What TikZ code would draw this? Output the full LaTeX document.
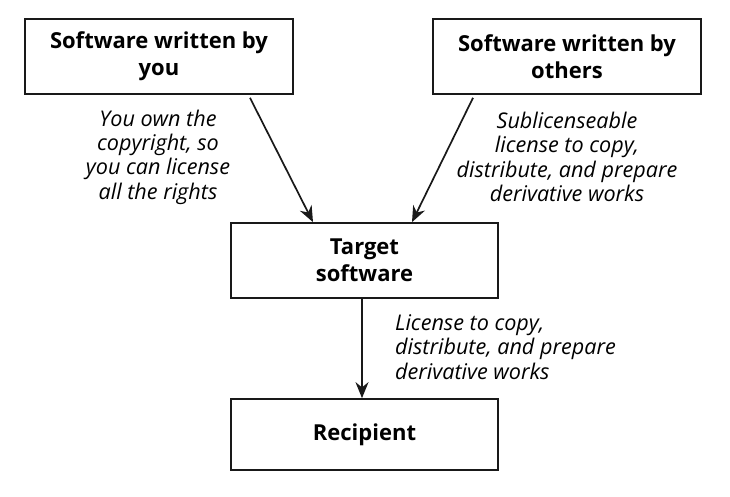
\documentclass[tikz,border=0pt]{standalone}
\usepackage{fontspec}
\setmainfont{Open Sans}
\usetikzlibrary{arrows.meta}
\begin{document}
\begin{tikzpicture}[x=1pt,y=-1pt,
  box/.style={draw=black!90,line width=1.7pt,rectangle,align=center,
    font=\fontsize{22}{27}\selectfont\bfseries,inner sep=0pt},
  lbl/.style={font=\fontsize{21.6}{24.3}\selectfont\itshape,inner sep=0pt},
  arr/.style={draw=black!90,line width=1.7pt,-{Stealth[length=16pt,width=13pt]}}]
\useasboundingbox (0,0) rectangle (730,497);
\node[box,minimum width=268pt,minimum height=75pt] (b1) at (159,56.5) {Software written by\\you};
\node[box,minimum width=268pt,minimum height=75pt] (b2) at (567,56.5) {Software written by\\others};
\node[box,minimum width=267pt,minimum height=75pt] (tgt) at (364.5,260.5) {Target\\software};
\node[box,minimum width=267pt,minimum height=71pt] (rec) at (364.5,434.5) {Recipient};
\draw[arr] ([xshift=91pt,yshift=-3pt]b1.south) -- ([xshift=-51.5pt]tgt.north);
\draw[arr] ([xshift=-94pt,yshift=-3pt]b2.south) -- ([xshift=47.5pt]tgt.north);
\draw[arr] ([xshift=-2.5pt]tgt.south) -- ([xshift=-2.5pt]rec.north);
\node[lbl,align=center] (l1) at (158,157) {You own the\\copyright, so\\you can license\\all the rights};
\node[lbl,align=center] (l2) at (567,157) {Sublicenseable\\license to copy,\\distribute, and prepare\\derivative works};
\node[lbl,align=left,anchor=west] (l3) at (395,347) {License to copy,\\distribute, and prepare\\derivative works};
\end{tikzpicture}
\end{document}
